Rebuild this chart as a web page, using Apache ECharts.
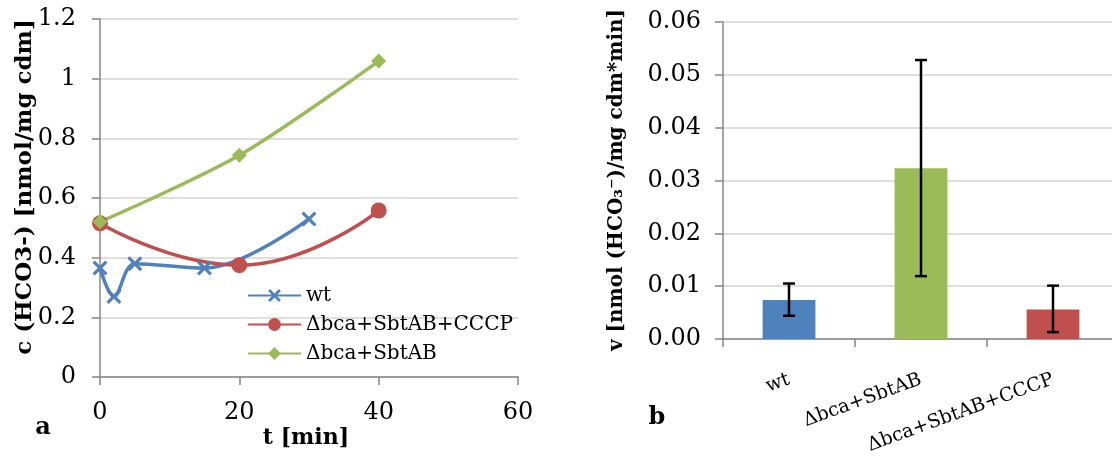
<!DOCTYPE html>
<html>
<head>
<meta charset="utf-8">
<script src="https://cdn.jsdelivr.net/npm/echarts@6/dist/echarts.min.js"></script>
<style>html,body{margin:0;padding:0;background:#fff;}#c{width:1112px;height:456px;}</style>
</head>
<body>
<div id="c"></div>
<script>
// ---- Panel a: concentration over time ----
const seriesNamesA = ['wt', 'Δbca+SbtAB+CCCP', 'Δbca+SbtAB'];
const wtTime = [0, 2, 5, 15, 30];
const wtConc = [0.365, 0.27, 0.38, 0.365, 0.53];
const cccpTime = [0, 20, 40];
const cccpConc = [0.515, 0.375, 0.558];
const sbtTime = [0, 20, 40];
const sbtConc = [0.52, 0.743, 1.059];
const xTicksA = [0, 20, 40, 60];
const yTicksA = [0, 0.2, 0.4, 0.6, 0.8, 1, 1.2];

// ---- Panel b: rates ----
const categoriesB = ['wt', 'Δbca+SbtAB', 'Δbca+SbtAB+CCCP'];
const ratesB = [0.0074, 0.0323, 0.0056];
const errLowB = [0.0044, 0.0119, 0.0013];
const errHighB = [0.0105, 0.0528, 0.0101];
const yTicksB = [0, 0.01, 0.02, 0.03, 0.04, 0.05, 0.06];

const FONT = 'DejaVu Serif';
const BLUE = '#4F81BD', RED = '#C0504D', GREEN = '#9BBB59';
const barColors = [BLUE, GREEN, RED];
const AXIS = '#878787', GRID = '#D4D4D4';
const XPATH = 'path://M0,1.5 L1.5,0 L5,3.5 L8.5,0 L10,1.5 L6.5,5 L10,8.5 L8.5,10 L5,6.5 L1.5,10 L0,8.5 L3.5,5 Z';

const zip = (a, b) => a.map((v, i) => [v, b[i]]);

const chart = echarts.init(document.getElementById('c'), null, {renderer: 'canvas'});

const axisCommon = {
  axisLine: {show: true, lineStyle: {color: AXIS, width: 1.5}},
  axisTick: {show: true, length: 8, lineStyle: {color: AXIS, width: 1.5}},
  axisLabel: {color: '#000', fontFamily: FONT, fontSize: 24},
};

const option = {
  animation: false,
  grid: [
    {left: 100, top: 19, width: 418, height: 358, containLabel: false, outerBoundsMode: 'none'},
    {left: 723, top: 22, width: 396, height: 317, containLabel: false, outerBoundsMode: 'none'}
  ],
  xAxis: [
    Object.assign({}, axisCommon, {
      type: 'value', gridIndex: 0, min: xTicksA[0], max: xTicksA[xTicksA.length - 1],
      interval: xTicksA[1] - xTicksA[0], splitLine: {show: false},
      axisLabel: Object.assign({}, axisCommon.axisLabel, {margin: 24})
    }),
    Object.assign({}, axisCommon, {
      type: 'category', gridIndex: 1, data: categoriesB,
      axisTick: {show: true, length: 8, alignWithLabel: false, lineStyle: {color: AXIS, width: 1.5}},
      axisLabel: Object.assign({}, axisCommon.axisLabel, {fontSize: 19, rotate: 20, interval: 0, margin: 40})
    })
  ],
  yAxis: [
    Object.assign({}, axisCommon, {
      type: 'value', gridIndex: 0, min: yTicksA[0], max: yTicksA[yTicksA.length - 1],
      interval: yTicksA[1] - yTicksA[0],
      splitLine: {show: true, lineStyle: {color: GRID, width: 1.5}},
      axisLabel: Object.assign({}, axisCommon.axisLabel, {margin: 24,
        formatter: v => String(Math.round(v * 10) / 10)})
    }),
    Object.assign({}, axisCommon, {
      type: 'value', gridIndex: 1, min: yTicksB[0], max: yTicksB[yTicksB.length - 1],
      interval: yTicksB[1] - yTicksB[0],
      splitLine: {show: true, lineStyle: {color: GRID, width: 1.5}},
      axisLabel: Object.assign({}, axisCommon.axisLabel, {margin: 22,
        formatter: v => v.toFixed(2)})
    })
  ],
  legend: {
    left: 242, top: 279, orient: 'vertical',
    itemWidth: 53, itemHeight: 16, itemGap: 6,
    data: seriesNamesA,
    textStyle: {fontFamily: FONT, fontSize: 20, color: '#000', lineHeight: 23}
  },
  series: [
    {
      name: seriesNamesA[0], type: 'line', xAxisIndex: 0, yAxisIndex: 0,
      data: zip(wtTime, wtConc), smooth: 0.35,
      symbol: XPATH, symbolSize: 15,
      lineStyle: {color: BLUE, width: 3.5}, itemStyle: {color: BLUE}
    },
    {
      name: seriesNamesA[1], type: 'line', xAxisIndex: 0, yAxisIndex: 0,
      data: zip(cccpTime, cccpConc), smooth: 0.5,
      symbol: 'circle', symbolSize: 16,
      lineStyle: {color: RED, width: 3.5}, itemStyle: {color: RED}
    },
    {
      name: seriesNamesA[2], type: 'line', xAxisIndex: 0, yAxisIndex: 0,
      data: zip(sbtTime, sbtConc), smooth: 0.3,
      symbol: 'diamond', symbolSize: 15,
      lineStyle: {color: GREEN, width: 3.5}, itemStyle: {color: GREEN}
    },
    {
      name: 'rate', type: 'bar', xAxisIndex: 1, yAxisIndex: 1, barWidth: '40%',
      data: ratesB.map((v, i) => ({value: v, itemStyle: {color: barColors[i]}}))
    },
    {
      name: 'err', type: 'custom', xAxisIndex: 1, yAxisIndex: 1,
      data: categoriesB.map((c, i) => [i, errLowB[i], errHighB[i]]),
      renderItem: function (params, api) {
        const lo = api.coord([api.value(0), api.value(1)]);
        const hi = api.coord([api.value(0), api.value(2)]);
        const cap = 6;
        const st = {stroke: '#000', lineWidth: 2.5};
        return {type: 'group', children: [
          {type: 'line', shape: {x1: lo[0], y1: lo[1], x2: hi[0], y2: hi[1]}, style: st},
          {type: 'line', shape: {x1: lo[0] - cap, y1: lo[1], x2: lo[0] + cap, y2: lo[1]}, style: st},
          {type: 'line', shape: {x1: hi[0] - cap, y1: hi[1], x2: hi[0] + cap, y2: hi[1]}, style: st}
        ]};
      },
      z: 5
    }
  ],
  graphic: [
    {type: 'text', x: 25, y: 187, rotation: Math.PI / 2,
     style: {text: 'c (HCO3-) [nmol/mg cdm]', fontFamily: FONT, fontWeight: 'bold', fontSize: 23, fill: '#000', align: 'center', verticalAlign: 'middle'}},
    {type: 'text', x: 617, y: 180, rotation: Math.PI / 2,
     style: {text: 'v [nmol (HCO₃⁻)/mg cdm*min]', fontFamily: FONT, fontWeight: 'bold', fontSize: 20, fill: '#000', align: 'center', verticalAlign: 'middle'}},
    {type: 'text', x: 306, y: 438,
     style: {text: 't [min]', fontFamily: FONT, fontWeight: 'bold', fontSize: 22, fill: '#000', align: 'center', verticalAlign: 'middle'}},
    {type: 'text', x: 43, y: 428,
     style: {text: 'a', fontFamily: FONT, fontWeight: 'bold', fontSize: 24, fill: '#000', align: 'center', verticalAlign: 'middle'}},
    {type: 'text', x: 657, y: 418,
     style: {text: 'b', fontFamily: FONT, fontWeight: 'bold', fontSize: 24, fill: '#000', align: 'center', verticalAlign: 'middle'}}
  ]
};
chart.setOption(option);
</script>
</body>
</html>
